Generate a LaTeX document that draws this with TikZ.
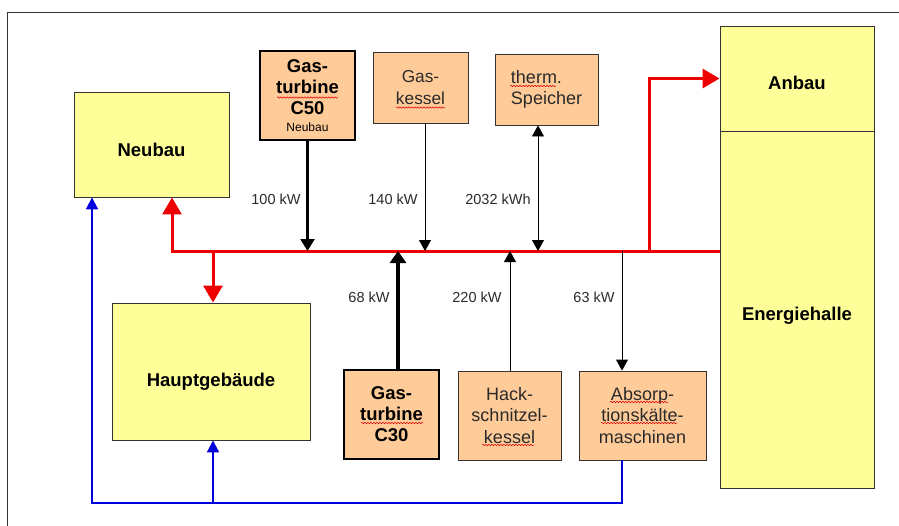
\documentclass[tikz,border=0pt]{standalone}
\usepackage{fontspec}
\setmainfont{Liberation Sans}
\usetikzlibrary{arrows.meta,calc,decorations.pathmorphing}
\definecolor{ylw}{HTML}{FFFF99}
\definecolor{org}{HTML}{FFCC99}
\definecolor{bord}{HTML}{333333}
\definecolor{txt}{HTML}{2A2A2A}
\definecolor{rd}{HTML}{EE0000}
\definecolor{bl}{HTML}{0000DD}
\tikzset{
  bldg/.style={draw=bord,line width=0.9pt,fill=ylw,inner sep=0pt},
  bldgtext/.style={font=\fontsize{18.5}{22}\selectfont\bfseries,inner sep=0pt},
  unit/.style={draw=bord,line width=0.9pt,fill=org,inner sep=0pt,align=center,text=txt,font=\fontsize{18}{21.5}\selectfont},
  turb/.style={draw=black,line width=2.2pt,fill=org,inner sep=0pt,align=center,font=\fontsize{18.5}{21}\selectfont\bfseries},
  lbl/.style={text=txt,font=\fontsize{14.5}{17}\selectfont,inner sep=0pt},
  thin/.style={draw=black,line width=0.9pt,-{Triangle[width=12pt,length=11pt]}},
  redline/.style={draw=rd,line width=3pt},
  redarr/.style={redline,-{Triangle[width=19pt,length=17pt]}},
  blueline/.style={draw=bl,line width=2pt},
  bluearr/.style={blueline,-{Triangle[width=12pt,length=12pt]}},
  squig/.style={draw=red!85!black,line width=0.5pt,decorate,decoration={snake,segment length=3pt,amplitude=0.7pt}}
}
\begin{document}
\begin{tikzpicture}[x=1pt,y=-1pt]
\useasboundingbox (0,0) rectangle (899,525);
\draw[draw=bord,line width=1pt] (7,530) -- (7,12) -- (905,12);
% buildings
\node[bldg,minimum width=155,minimum height=105] (nb) at (151.5,144.5) {};
\node[bldgtext] (nbt) at (151.5,150) {Neubau};
\node[bldg,minimum width=198,minimum height=137] (hg) at (211,371.5) {};
\node[bldgtext] (hgt) at (211,382) {Hauptgebäude};
\node[bldg,minimum width=154,minimum height=105] (an) at (797,78.5) {};
\node[bldgtext] (ant) at (797,83) {Anbau};
\node[bldg,minimum width=154,minimum height=357] (eh) at (797,309.5) {};
\node[bldgtext] (eht) at (797,316) {Energiehalle};
% units
\node[turb,minimum width=95,minimum height=89] (c50) at (307.5,95.5) {Gas-\\turbine\\C50\\[-4pt]{\fontsize{12}{13}\selectfont\mdseries Neubau}};
\node[unit,minimum width=95,minimum height=71,font=\fontsize{17.3}{22}\selectfont] (gk) at (420.5,87.5) {Gas-\\kessel};
\node[unit,minimum width=103,minimum height=71,align=left] (ts) at (546.5,89.5) {therm.\\Speicher};
\node[turb,minimum width=95,minimum height=89] (c30) at (391.5,414.5) {Gas-\\turbine\\C30};
\node[unit,minimum width=103,minimum height=89] (hs) at (509.5,415.5) {Hack-\\schnitzel-\\kessel};
\node[unit,minimum width=127,minimum height=89] (ak) at (642.5,415.5) {Absorp-\\tionskälte-\\maschinen};
% spell-check underlines
\draw[squig] (277,97.5) -- (338,97.5);
\draw[squig] (396,107.5) -- (445,107.5);
\draw[squig] (510,86) -- (556,86);
\draw[squig] (361,423) -- (423,423);
\draw[squig] (482,445) -- (534,445);
\draw[squig] (610,402) -- (668,402);
\draw[squig] (601,423) -- (677,423);
% bus coordinates
\coordinate (bus) at (0,251);
\coordinate (busL) at (172,251);
\coordinate (hgx) at (213,251);
\coordinate (anx) at (649,251);
\coordinate (gkx) at (425,251);
\coordinate (tsx) at (538,251);
\coordinate (c30x) at (398,251);
\coordinate (hsx) at (510,251);
\coordinate (akx) at (622,251);
\coordinate (blL) at (92,503);
\coordinate (blH) at (213,503);
% red heat network
\draw[redarr] (eh.west |- bus) -- (busL) -- (busL |- nb.south);
\draw[redarr] (hgx) -- (hgx |- hg.north);
\draw[redarr] (anx) |- (an.west);
% producers / consumers
\draw[draw=black,line width=2.2pt,-{Triangle[width=14pt,length=12pt]}] (c50.south) -- (c50.south |- bus);
\draw[thin] (gkx |- gk.south) -- (gkx);
\draw[thin,{Triangle[width=12pt,length=11pt]}-{Triangle[width=12pt,length=11pt]}] (tsx |- ts.south) -- (tsx);
\draw[draw=black,line width=3.2pt,-{Triangle[width=16pt,length=12pt]}] (c30x |- c30.north) -- (c30x);
\draw[thin] (hsx |- hs.north) -- (hsx);
\draw[thin] (akx) -- (akx |- ak.north);
% blue return
\draw[bluearr] (akx |- ak.south) |- (blL) -- (blL |- nb.south);
\draw[bluearr] (blH) -- (blH |- hg.south);
% labels
\node[lbl] (l1) at (276,199) {100 kW};
\node[lbl] (l2) at (393,199) {140 kW};
\node[lbl] (l3) at (498,199) {2032 kWh};
\node[lbl] (l4) at (369,297) {68 kW};
\node[lbl] (l5) at (477,297) {220 kW};
\node[lbl] (l6) at (594,297) {63 kW};
\end{tikzpicture}
\end{document}
